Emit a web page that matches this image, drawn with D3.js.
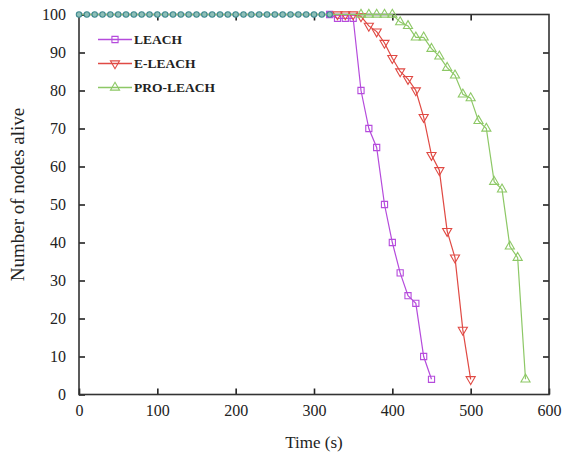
<!DOCTYPE html>
<meta charset="utf-8">
<style>
body { margin: 0; background: #fff; }
text { font-family: "Liberation Serif", "DejaVu Serif", serif; fill: #222; }
.frame { fill: none; stroke: #333; stroke-width: 1.6px; }
.axis path { display: none; }
.axis line { stroke: #222; stroke-width: 1.6px; }
.axis text { font-size: 16px; }
.line { fill: none; stroke-width: 1.2px; }
</style>
<body>
<script src="https://d3js.org/d3.v7.min.js"></script>
<script>

// data
let leachTime = [0, 320, 330, 340, 350, 360, 370, 380, 390, 400, 410, 420, 430, 440, 450];
let leachAlive = [100, 100, 99, 99, 99, 80, 70, 65, 50, 40, 32, 26, 24, 10, 4];

let eleachTime = [0, 330, 340, 350, 360, 370, 380, 390, 400, 410, 420, 430, 440, 450, 460, 470, 480, 490, 500];
let eleachAlive = [100, 100, 100, 100, 99.5, 97, 95.5, 92.5, 88.5, 85, 83, 80, 73, 63, 59, 43, 36, 17, 4];

let proTime = [0, 360, 370, 380, 390, 400, 410, 420, 430, 440, 450, 460, 470, 480, 490, 500, 510, 520, 530, 540, 550, 560, 570];
let proAlive = [100, 100, 100, 100, 100, 100, 98, 97, 94, 94, 91, 89, 86, 84, 79, 78, 72, 70, 56, 54, 39, 36, 4];

// overlapping markers along the top before anything dies
let topTime = [0, 10, 20, 30, 40, 50, 60, 70, 80, 90, 100, 110, 120, 130, 140, 150, 160,
    170, 180, 190, 200, 210, 220, 230, 240, 250, 260, 270, 280, 290, 300, 310, 320];

let xTicks = [0, 100, 200, 300, 400, 500, 600];
let yTicks = [0, 10, 20, 30, 40, 50, 60, 70, 80, 90, 100];

let series = [
    {name: "LEACH", t: leachTime, v: leachAlive, color: "#b54bdc", shape: "square"},
    {name: "E-LEACH", t: eleachTime, v: eleachAlive, color: "#e04a44", shape: "down"},
    {name: "PRO-LEACH", t: proTime, v: proAlive, color: "#8dc866", shape: "up"}
];

let margin = {top: 14.5, right: 16, bottom: 58.5, left: 79},
    width = 565 - margin.left - margin.right,
    height = 453 - margin.top - margin.bottom;

let x = d3.scaleLinear().domain([0, 600]).range([0, width]);
let y = d3.scaleLinear().domain([0, 100]).range([height, 0]);

let svg = d3.select("body").append("svg")
    .attr("width", 565)
    .attr("height", 453)
    .append("g")
    .attr("transform", "translate(" + margin.left + "," + margin.top + ")");

// axes, ticks pointing inward
svg.append("g").attr("class", "axis")
    .attr("transform", "translate(0," + height + ")")
    .call(d3.axisBottom(x).tickValues(xTicks).tickSize(-6).tickPadding(10));
svg.append("g").attr("class", "axis")
    .call(d3.axisTop(x).tickValues(xTicks.slice(1, -1)).tickSize(-6).tickFormat(""));
svg.append("g").attr("class", "axis")
    .call(d3.axisLeft(y).tickValues(yTicks).tickSize(-6).tickPadding(13));
svg.append("g").attr("class", "axis")
    .attr("transform", "translate(" + width + ",0)")
    .call(d3.axisRight(y).tickValues(yTicks.slice(1, -1)).tickSize(-6).tickFormat(""));

svg.append("rect").attr("class", "frame")
    .attr("width", width).attr("height", height);

function marker(shape) {
    if (shape === "square") return d3.symbol(d3.symbolSquare, 38)();
    return d3.symbol(d3.symbolTriangle, 36)();
}

let line = d3.line()
    .x(function (d) { return x(d[0]); })
    .y(function (d) { return y(d[1]); });

series.forEach(function (s) {
    let pts = s.t.map(function (t, i) { return [t, s.v[i]]; });
    svg.append("path")
        .datum(pts)
        .attr("class", "line")
        .attr("stroke", s.color)
        .attr("d", line);
    svg.selectAll(null).data(pts.slice(1))
        .enter().append("path")
        .attr("d", marker(s.shape))
        .attr("fill", "none")
        .attr("stroke", s.color)
        .attr("stroke-width", 1.1)
        .attr("transform", function (d) {
            return "translate(" + x(d[0]) + "," + y(d[1]) + ")" + (s.shape === "down" ? " rotate(180)" : "");
        });
});

svg.selectAll(".topdot").data(topTime)
    .enter().append("circle")
    .attr("class", "topdot")
    .attr("cx", function (d) { return x(d); })
    .attr("cy", y(100))
    .attr("r", 2.7)
    .attr("fill", "#8fbfb8")
    .attr("stroke", "#3f8a90")
    .attr("stroke-width", 1.1);

// legend
let legend = svg.append("g").attr("transform", "translate(19,25)");
series.forEach(function (s, i) {
    let g = legend.append("g").attr("transform", "translate(0," + (i * 24) + ")");
    g.append("line").attr("x1", 0).attr("x2", 34)
        .attr("stroke", s.color).attr("stroke-width", 1.5);
    g.append("path").attr("d", marker(s.shape))
        .attr("fill", "none").attr("stroke", s.color).attr("stroke-width", 1.1)
        .attr("transform", "translate(17,0)" + (s.shape === "down" ? " rotate(180)" : ""));
    g.append("text").attr("x", 36).attr("y", 4.5)
        .style("font-size", "13.5px").style("font-weight", "bold")
        .text(s.name);
});

// axis titles
svg.append("text")
    .attr("x", width / 2)
    .attr("y", height + 53)
    .attr("text-anchor", "middle")
    .style("font-size", "17px")
    .text("Time (s)");
svg.append("text")
    .attr("transform", "translate(-55," + (height / 2 - 10) + ") rotate(-90)")
    .attr("text-anchor", "middle")
    .style("font-size", "19px")
    .text("Number of nodes alive");

</script>
</body>
